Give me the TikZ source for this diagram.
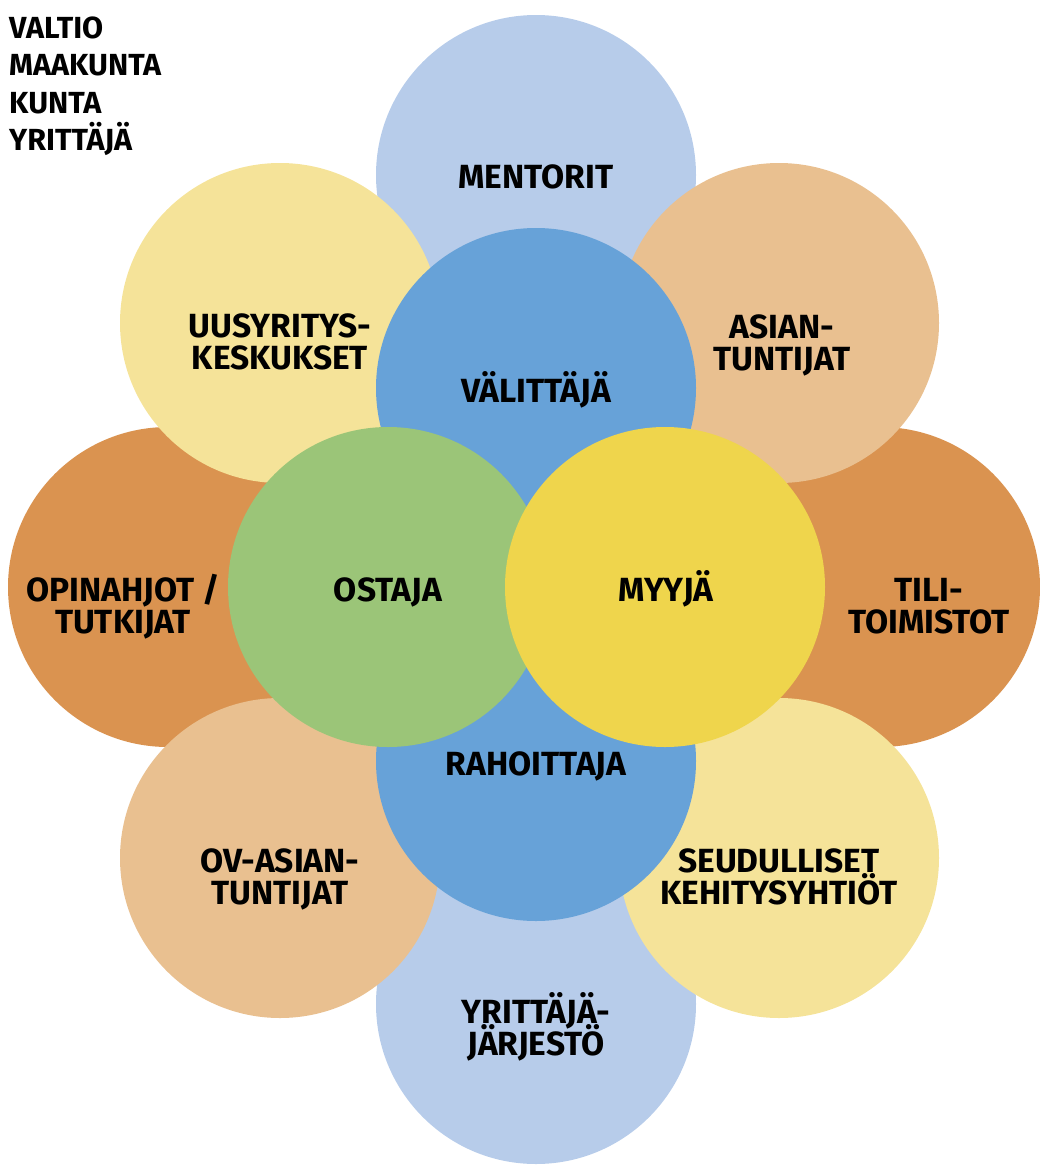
\documentclass[tikz,border=0pt]{standalone}
\usepackage{fontspec}
\setmainfont{Fira Sans}
\newcommand{\twoline}[2]{\vtop{\lineskiplimit=-100pt\relax\halign{\hfil##\hfil\cr#1\cr#2\cr}}}
\newcommand{\fourline}[4]{\vtop{\lineskiplimit=-100pt\relax\halign{##\hfil\cr#1\cr#2\cr#3\cr#4\cr}}}
\definecolor{cLightBlue}{HTML}{B7CCEA}
\definecolor{cPeach}{HTML}{E9C090}
\definecolor{cOrange}{HTML}{DA9350}
\definecolor{cLightYellow}{HTML}{F5E399}
\definecolor{cBlue}{HTML}{67A2D8}
\definecolor{cGreen}{HTML}{9BC578}
\definecolor{cYellow}{HTML}{EFD54C}
\tikzset{
  blob/.style={circle, minimum size=320pt, inner sep=0pt, draw=none, fill=#1},
  lbl/.style={font=\fontsize{33.5}{32.5}\selectfont\bfseries, inner sep=0pt, anchor=base, text=black},
  toplist/.style={font=\fontsize{30.5}{37.5}\selectfont\bfseries, inner sep=0pt, anchor=base west, text=black}
}
\begin{document}
\begin{tikzpicture}[x=1pt, y=-1pt]
\useasboundingbox (0,0) rectangle (1040,1165);
% outer ring
\node[blob=cOrange] (opin) at (168,587) {};
\node[blob=cOrange] (tili) at (880,587) {};
\node[blob=cLightBlue] (ment) at (536,175) {};
\node[blob=cLightBlue] (yjar) at (536,1004) {};
\node[blob=cLightYellow] (uusy) at (280,323) {};
\node[blob=cPeach] (asia) at (779,323) {};
\node[blob=cPeach] (ovas) at (280,858) {};
\node[blob=cLightYellow] (seud) at (779,858) {};
% inner ring
\node[blob=cBlue] (valit) at (536,388) {};
\node[blob=cBlue] (rahoi) at (536,761) {};
\node[blob=cGreen] (ostaja) at (388,587) {};
\node[blob=cYellow] (myyja) at (665,587) {};
% labels
\node[lbl] (tMent) at (536,188) {MENTORIT};
\node[lbl] (tUusy) at (280,337) {\twoline{UUSYRITYS-}{KESKUKSET}};
\node[lbl] (tAsia) at (782,338) {\twoline{ASIAN-}{TUNTIJAT}};
\node[lbl] (tValit) at (536,402) {VÄLITTÄJÄ};
\node[lbl] (tOpin) at (123,601) {\twoline{OPINAHJOT /}{TUTKIJAT}};
\node[lbl] (tOst) at (388,601) {OSTAJA};
\node[lbl] (tMyy) at (666,601) {MYYJÄ};
\node[lbl] (tTili) at (929,601) {\twoline{TILI-}{TOIMISTOT}};
\node[lbl] (tRah) at (536,775) {RAHOITTAJA};
\node[lbl] (tOv) at (280,872) {\twoline{OV-ASIAN-}{TUNTIJAT}};
\node[lbl] (tSeud) at (779,872) {\twoline{SEUDULLISET}{KEHITYSYHTIÖT}};
\node[lbl] (tYjar) at (536,1023) {\twoline{YRITTÄJÄ-}{JÄRJESTÖ}};
% top-left list
\node[toplist] (list) at (9,38) {\fourline{VALTIO}{MAAKUNTA}{KUNTA}{YRITTÄJÄ}};
\end{tikzpicture}
\end{document}
